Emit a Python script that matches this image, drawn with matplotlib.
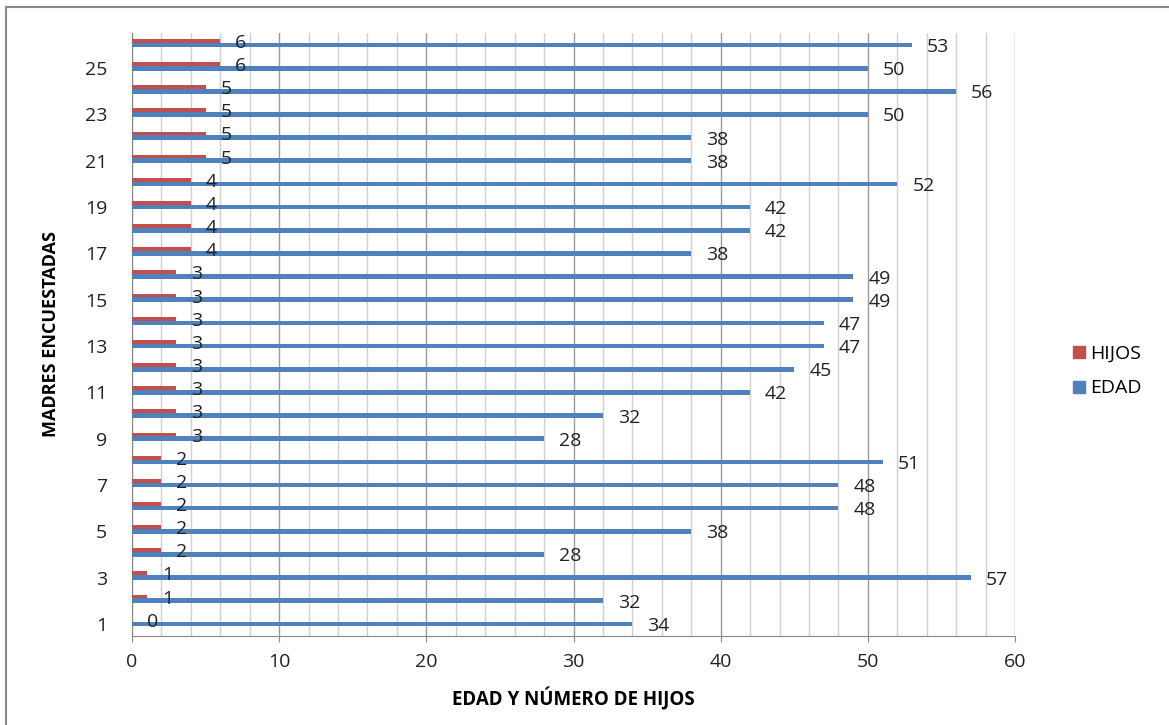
import numpy as np
import matplotlib
matplotlib.use('Agg')
import matplotlib.pyplot as plt
from matplotlib.lines import Line2D
from matplotlib.ticker import MultipleLocator

plt.rcParams['font.family'] = ['Open Sans', 'DejaVu Sans']

# madres encuestadas 1..26
madres = list(range(1, 27))
edad = [34, 32, 57, 28, 38, 48, 48, 51, 28, 32, 42, 45, 47, 47, 49, 49,
        38, 42, 42, 52, 38, 38, 50, 56, 50, 53]
hijos = [0, 1, 1, 2, 2, 2, 2, 2, 3, 3, 3, 3, 3, 3, 3, 3,
         4, 4, 4, 4, 5, 5, 5, 5, 6, 6]

RED = '#C0504D'
BLUE = '#4F81BD'
FS = 14

fig = plt.figure(figsize=(11.69, 7.25), dpi=100)
ax = fig.add_axes([0.1129, 0.1228, 0.7554, 0.8317])

y = np.array(madres, dtype=float)
ax.barh(y + 0.18, hijos, height=0.17, color=RED, zorder=3)
ax.barh(y, edad, height=0.2, color=BLUE, zorder=3)

# etiquetas de datos
for yi, h, e in zip(y, hijos, edad):
    ax.annotate(str(h), (h, yi + 0.18), xytext=(15, -2), textcoords='offset pixels',
                ha='left', va='center', fontsize=FS, color='#222222', zorder=4)
    ax.annotate(str(e), (e, yi), xytext=(15, -2), textcoords='offset pixels',
                ha='left', va='center', fontsize=FS, color='#222222', zorder=4)

ax.set_xlim(0, 60)
ax.set_ylim(0.48, 26.52)
ax.xaxis.set_major_locator(MultipleLocator(10))
ax.xaxis.set_minor_locator(MultipleLocator(2))
ax.grid(axis='x', which='major', color='#9a9a9a', linewidth=1.0, zorder=1)
ax.grid(axis='x', which='minor', color='#d0d0d0', linewidth=1.0, zorder=1)
ax.set_yticks(madres[::2])
ax.set_yticklabels([str(m) for m in madres[::2]])
ax.tick_params(axis='y', length=0, pad=18, labelsize=FS, labelcolor='#222222')
ax.tick_params(axis='x', which='major', length=4, color='#888888', pad=8,
               labelsize=FS, labelcolor='#222222')
ax.tick_params(axis='x', which='minor', length=0)

for s in ['top', 'right']:
    ax.spines[s].set_visible(False)
for s in ['left', 'bottom']:
    ax.spines[s].set_color('#888888')
    ax.spines[s].set_zorder(2)

ax.set_xlabel('EDAD Y NÚMERO DE HIJOS', fontsize=13.5, fontweight='bold', labelpad=12)
ax.set_ylabel('MADRES ENCUESTADAS', fontsize=13, fontweight='bold')
ax.yaxis.set_label_coords(-0.0815, 0.5)

handles = [Line2D([], [], marker='s', linestyle='none', markersize=9, color=RED),
           Line2D([], [], marker='s', linestyle='none', markersize=9, color=BLUE)]
fig.legend(handles, ['HIJOS', 'EDAD'], loc='center left',
           bbox_to_anchor=(0.9, 0.488), frameon=False, fontsize=14,
           handletextpad=0.05, labelspacing=0.85, handlelength=1.0)

# marco exterior (bordes izquierdo y superior)
fig.add_artist(Line2D([0.005, 0.005], [0.0, 0.99], transform=fig.transFigure,
                      color='#888888', linewidth=1.5))
fig.add_artist(Line2D([0.005, 1.0], [0.99, 0.99], transform=fig.transFigure,
                      color='#888888', linewidth=1.5))

fig.savefig('out.png', dpi=100)
